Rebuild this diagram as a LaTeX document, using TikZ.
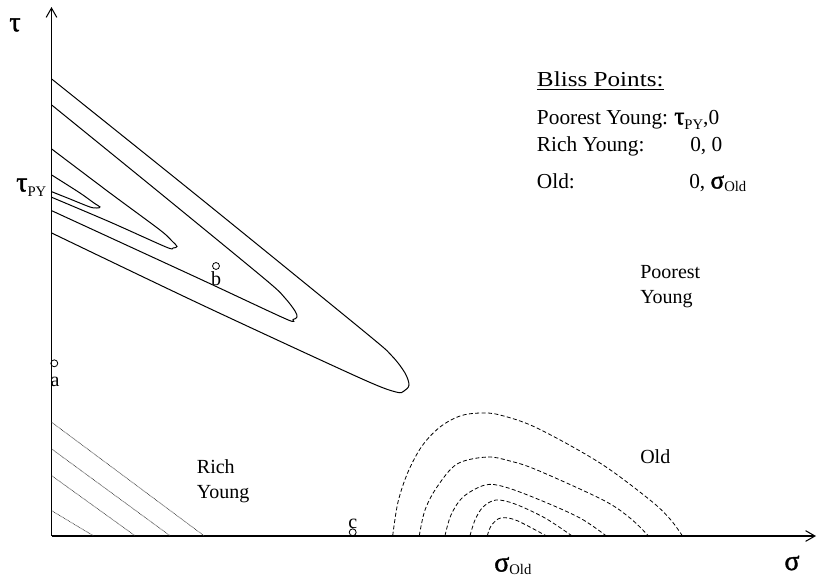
\documentclass[tikz,border=0pt]{standalone}
\usepackage{fontspec}
\setmainfont{Liberation Serif}
\newfontfamily\greekfont[FakeBold=1.3]{Liberation Serif}
\usetikzlibrary{arrows.meta}
\newcommand{\gkbig}[1]{{\greekfont\fontsize{21}{21}\selectfont #1}}
\newcommand{\gksmall}[1]{{\greekfont\fontsize{19}{19}\selectfont #1}}
\newcommand{\subtxt}[2]{\raisebox{-#1}{\fontsize{11}{11}\selectfont #2}}
\begin{document}
\begin{tikzpicture}[x=0.75pt,y=-0.75pt,
  axis/.style={line width=0.8pt,-{Straight Barb[length=7pt,width=8pt]}},
  contour/.style={line width=0.75pt},
  oldc/.style={line width=0.6pt,dash pattern=on 3pt off 1.8pt},
  hatch/.style={line width=0.5pt,black!75,dash pattern=on 0.6pt off 0.5pt},
  bliss/.style={circle,draw,inner sep=0pt,minimum size=5.2pt,line width=0.6pt},
  lbl/.style={font=\fontsize{15}{15}\selectfont,inner sep=0pt,anchor=base west},
  leg/.style={font=\fontsize{16}{16}\selectfont,inner sep=0pt,anchor=base west},
  ptl/.style={font=\fontsize{15}{15}\selectfont,inner sep=0pt,anchor=base}]
\useasboundingbox (0,0) rectangle (817,586);

% axes
\coordinate (O) at (51.5,536);
\coordinate (Ytip) at (51.5,7);
\coordinate (Xtip) at (816,536);
\draw[axis] (O) -- (Ytip);
\draw[axis] (O) -- (Xtip);
\node[inner sep=0pt] (taulbl) at (15,25) {\gkbig{τ}};
\node[inner sep=0pt] (siglbl) at (792,563) {\gkbig{σ}};
\node[inner sep=0pt,anchor=base west] (tauPY) at (16,191.5) {\gkbig{τ}\subtxt{3.7pt}{PY}};
\node[inner sep=0pt,anchor=base west] (sigOld) at (494,571.5) {\gkbig{σ}\subtxt{2.5pt}{Old}};

% poorest young indifference curves (solid)
\draw[contour] plot[smooth,tension=0.5] coordinates {(51.7,79) (200,198) (366,333) (392,356) (405,373) (409,385) (404,391) (396,392) (360,378) (200,304) (51.7,233)};
\draw[contour] plot[smooth,tension=0.5] coordinates {(51.7,105) (160,193) (266,280) (285,298) (295,311) (297,317) (293,319.5) (286,319) (200,279) (51.7,210.7)};
\draw[contour] plot[smooth,tension=0.5] coordinates {(51.7,149) (110,193) (160,230) (172,241) (177,246.5) (173,248) (166,247) (110,222) (51.7,197.3)};
\draw[contour] plot[smooth,tension=0.5] coordinates {(51.7,175) (80,193) (94,203) (100,207) (97,208) (90,207) (70,199) (51.7,191.7)};

% rich young indifference curves (dotted)
\draw[hatch] (51.7,422.3) -- (204,535.7);
\draw[hatch] (51.7,449) -- (170,535.7);
\draw[hatch] (51.7,475.7) -- (135,535.7);
\draw[hatch] (51.7,510.7) -- (93.3,535.7);

% old indifference curves (dashed)
\draw[oldc] plot[smooth,tension=0.55] coordinates {(392.7,535.7) (398,502) (408,472) (422,446) (440,427) (460,416) (480,413) (500,415) (537,428) (600,463) (650,500) (670,519) (682.3,535.7)};
\draw[oldc] plot[smooth,tension=0.55] coordinates {(419.3,535.7) (425,510) (437,487) (457,464) (487,457) (510,461) (537,470) (603,500) (630,518) (648.3,535.7)};
\draw[oldc] plot[smooth,tension=0.55] coordinates {(445,535.7) (451,515) (463,497) (485,485) (505,487) (540,500) (580,518) (606,535.7)};
\draw[oldc] plot[smooth,tension=0.55] coordinates {(470,535.7) (475,520) (483,507) (496,500) (515,504) (545,518) (571.7,535.7)};
\draw[oldc] plot[smooth,tension=0.55] coordinates {(487.3,535.7) (491,526) (498,519) (505,517.7) (518,521) (546,535.7)};

% points a, b, c
\node[bliss] (pa) at (54.3,363.3) {};
\node[ptl] (la) at (55,386) {a};
\node[bliss] (pb) at (216,266) {};
\node[ptl] (lb) at (216,285) {b};
\node[bliss] (pc) at (352.7,532.3) {};
\node[ptl] (lc) at (352.7,528.5) {c};

% region labels
\node[lbl] (rich1) at (196.7,473.3) {Rich};
\node[lbl] (rich2) at (196.7,498.3) {Young};
\node[lbl] (poor1) at (640,278.3) {Poorest};
\node[lbl] (poor2) at (640,303.3) {Young};
\node[lbl] (old) at (640,463.3) {Old};

% legend
\node[leg] (bp) at (536.7,86.7) {\underline{\scalebox{1.18}[1]{Bliss Points:}}};
\node[leg] (r1) at (536.7,124.5) {Poorest Young:};
\node[leg] (r1v) at (674,124.5) {\gksmall{τ}\subtxt{3.5pt}{PY},0};
\node[leg] (r2) at (536.7,151) {Rich Young:};
\node[leg] (r2v) at (690,151) {0, 0};
\node[leg] (r3) at (536.7,188.5) {Old:};
\node[leg] (r3v) at (689,188.5) {0, \gksmall{σ}\subtxt{2.5pt}{Old}};
\end{tikzpicture}
\end{document}
